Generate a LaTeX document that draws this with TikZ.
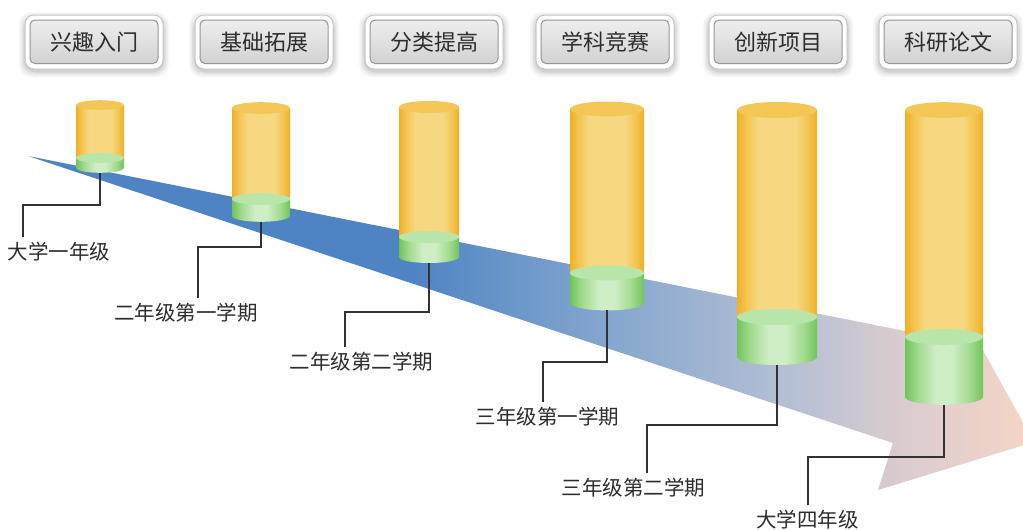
\documentclass[tikz,border=0pt]{standalone}
\usepackage{fontspec}
\newfontfamily\cjk{Noto Sans CJK SC}
\usetikzlibrary{calc}
\definecolor{aBlue}{RGB}{78,132,196}
\definecolor{aMid}{RGB}{128,164,206}
\definecolor{aGray}{RGB}{182,192,212}
\definecolor{aPink}{RGB}{216,203,208}
\definecolor{aPeach}{RGB}{246,214,198}
\definecolor{yE}{RGB}{240,176,36}
\definecolor{yM}{RGB}{243,197,82}
\definecolor{yL}{RGB}{246,216,128}
\definecolor{yTop}{RGB}{243,198,86}
\definecolor{gE}{RGB}{112,196,92}
\definecolor{gM}{RGB}{160,218,140}
\definecolor{gL}{RGB}{208,238,198}
\definecolor{gTop}{RGB}{184,230,170}
\definecolor{btnTop}{RGB}{238,238,238}
\definecolor{btnBot}{RGB}{210,210,210}
\definecolor{btnLine}{RGB}{150,150,150}
\definecolor{txt}{RGB}{45,45,45}
\definecolor{connC}{RGB}{50,50,50}
\pgfdeclarehorizontalshading{arrowshade}{100bp}{color(0bp)=(aBlue); color(25bp)=(aBlue); color(44bp)=(aBlue); color(53bp)=(aMid); color(63bp)=(aGray); color(68bp)=(aPink); color(75bp)=(aPeach); color(100bp)=(aPeach)}
\pgfdeclarehorizontalshading{cylY}{100bp}{color(0bp)=(yE); color(25bp)=(yE); color(31bp)=(yM); color(38bp)=(yL); color(62bp)=(yL); color(69bp)=(yM); color(75bp)=(yE); color(100bp)=(yE)}
\pgfdeclarehorizontalshading{cylG}{100bp}{color(0bp)=(gE); color(25bp)=(gE); color(33bp)=(gM); color(45bp)=(gL); color(55bp)=(gL); color(67bp)=(gM); color(75bp)=(gE); color(100bp)=(gE)}
\newcommand\cylinder[6]{%
  \pgfmathsetmacro\cylR{#3/2}%
  \pgfmathsetmacro\cylRy{#3*0.1}%
  \path[shading=cylY] ({#2-\cylR},#4) rectangle ({#2+\cylR},#5);
  \path[shading=cylG] ({#2-\cylR},#5) -- ({#2-\cylR},#6)
    .. controls ({#2-\cylR},{#6+0.552*\cylRy}) and ({#2-0.552*\cylR},{#6+\cylRy}) .. (#2,{#6+\cylRy})
    .. controls ({#2+0.552*\cylR},{#6+\cylRy}) and ({#2+\cylR},{#6+0.552*\cylRy}) .. ({#2+\cylR},#6)
    -- ({#2+\cylR},#5) -- cycle;
  \path[fill=gTop] (#2,#5) ellipse [x radius=\cylR, y radius=\cylRy];
  \path[fill=yTop] (#2,#4) ellipse [x radius=\cylR, y radius=\cylRy];
  \coordinate (#1) at (#2,{#6+\cylRy});
}
\newcommand\btn[3]{%
  \foreach \s/\o in {6/0.03,4.5/0.04,3/0.05,1.5/0.06}{
    \fill[black,opacity=\o,rounded corners=12] ({#2-69-\s},{15-\s+3}) rectangle ({#2+69+\s},{69+\s+2});
  }
  \path[fill=white,draw=black!22,line width=1,rounded corners=9] ({#2-69},15) rectangle ({#2+69},69);
  \path[top color=btnTop,bottom color=btnBot,draw=btnLine,line width=1,rounded corners=5] ({#2-64},20) rectangle ({#2+64},63.5);
  \node[btntext] (#1) at (#2,42) {#3};
}
\tikzset{
  btntext/.style={inner sep=0pt, text=txt, font=\cjk\fontsize{22}{26}\selectfont},
  lab/.style={inner xsep=0pt, inner ysep=5pt, text=txt, font=\cjk\fontsize{20.5}{24}\selectfont},
  conn/.style={draw=connC, line width=1.4}
}
\begin{document}
\begin{tikzpicture}[x=1pt,y=-1pt]
\useasboundingbox (0,0) rectangle (1023,530);
\clip (0,0) rectangle (1023,530);
\fill[white] (0,0) rectangle (1023,530);
% buttons
\btn{b1}{94}{兴趣入门}
\btn{b2}{264}{基础拓展}
\btn{b3}{434}{分类提高}
\btn{b4}{605}{学科竞赛}
\btn{b5}{778}{创新项目}
\btn{b6}{948}{科研论文}
% arrow
\path[shading=arrowshade] (28,156) -- (940,338) -- (955,300) -- (1034,442) -- (878,490) -- (893,443) -- cycle;
% cylinders
\cylinder{c1}{100}{48}{105}{158}{168}
\cylinder{c2}{261}{58}{108}{199}{216}
\cylinder{c3}{429}{60}{107}{237}{257}
\cylinder{c4}{607}{74}{109}{273}{303}
\cylinder{c5}{777}{80}{110}{317}{357}
\cylinder{c6}{944}{78}{110}{337}{397}
% labels
\node[lab] (l1) at (59,252) {大学一年级};
\node[lab] (l2) at (186,313) {二年级第一学期};
\node[lab] (l3) at (361.5,362) {二年级第二学期};
\node[lab] (l4) at (547.5,417) {三年级第一学期};
\node[lab] (l5) at (633.5,488) {三年级第二学期};
\node[lab] (l6) at (807.5,520) {大学四年级};
% connectors
\coordinate (k1) at (23,205);
\coordinate (k2) at (198,247);
\coordinate (k3) at (345,312);
\coordinate (k4) at (543,362);
\coordinate (k5) at (647,425);
\coordinate (k6) at (808,457);
\foreach \i in {1,...,6}{
  \draw[conn] (c\i) |- (k\i) -- (k\i |- l\i.north);
}
\end{tikzpicture}
\end{document}
